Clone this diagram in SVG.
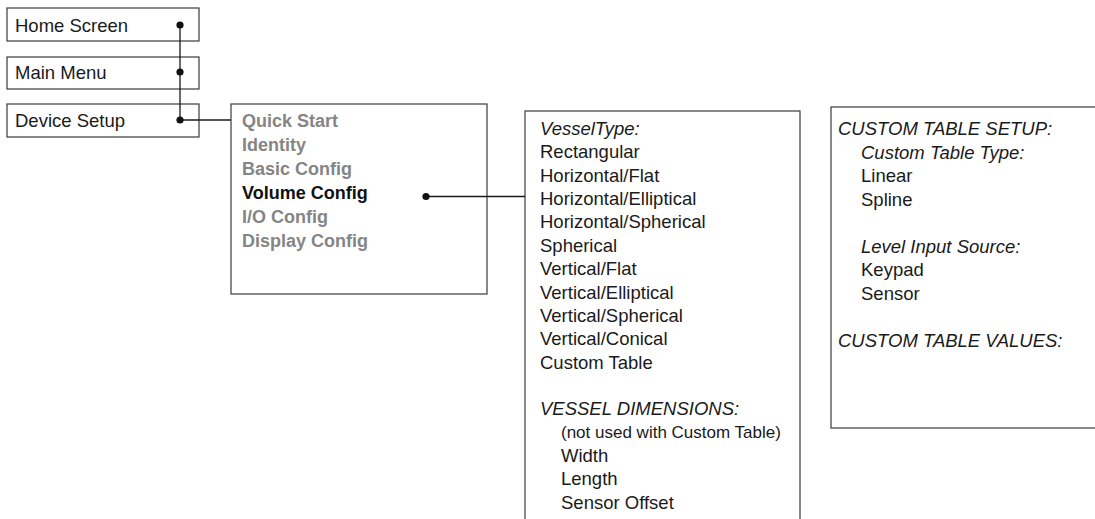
<svg xmlns="http://www.w3.org/2000/svg" width="1095" height="519" viewBox="0 0 1095 519">
<style>
.box{fill:#fff;stroke:#3a3a3a;stroke-width:1.2}
.t{font-family:"Liberation Sans",Arial,Helvetica,sans-serif;font-size:18.5px;fill:#1a1a1a}
.i{font-style:italic}
.g{font-weight:bold;fill:#858585;font-size:18px}
.b{font-weight:bold;fill:#111;font-size:18px}
.sm{font-size:17px}
.ln{stroke:#1a1a1a;stroke-width:1.3;fill:none}
.dot{fill:#111}
</style>
<rect width="1095" height="519" fill="#fff"/>
<g id="home-screen">
<rect class="box" x="7" y="8" width="192" height="33"/>
<text class="t" x="15" y="31.5">Home Screen</text>
</g>
<g id="main-menu">
<rect class="box" x="7" y="57" width="192" height="32"/>
<text class="t" x="15" y="79">Main Menu</text>
</g>
<g id="device-setup">
<rect class="box" x="7" y="104" width="192" height="33"/>
<text class="t" x="15" y="127">Device Setup</text>
</g>
<g id="setup-menu">
<rect class="box" x="231" y="104" width="256" height="190"/>
<text class="t g" x="242" y="127">Quick Start</text>
<text class="t g" x="242" y="151">Identity</text>
<text class="t g" x="242" y="175">Basic Config</text>
<text class="t b" x="242" y="199">Volume Config</text>
<text class="t g" x="242" y="223">I/O Config</text>
<text class="t g" x="242" y="247">Display Config</text>
</g>
<g id="volume-config">
<rect class="box" x="525" y="111" width="275" height="420"/>
<text class="t i" x="540" y="135">VesselType:</text>
<text class="t" x="540" y="158.4">Rectangular</text>
<text class="t" x="540" y="181.7">Horizontal/Flat</text>
<text class="t" x="540" y="205.1">Horizontal/Elliptical</text>
<text class="t" x="540" y="228.4">Horizontal/Spherical</text>
<text class="t" x="540" y="251.8">Spherical</text>
<text class="t" x="540" y="275.1">Vertical/Flat</text>
<text class="t" x="540" y="298.5">Vertical/Elliptical</text>
<text class="t" x="540" y="321.8">Vertical/Spherical</text>
<text class="t" x="540" y="345.2">Vertical/Conical</text>
<text class="t" x="540" y="368.5">Custom Table</text>
<text class="t i" x="540" y="415.2">VESSEL DIMENSIONS:</text>
<text class="t sm" x="561" y="438.2">(not used with Custom Table)</text>
<text class="t" x="561" y="461.9">Width</text>
<text class="t" x="561" y="485.2">Length</text>
<text class="t" x="561" y="508.6">Sensor Offset</text>
</g>
<g id="custom-table">
<rect class="box" x="831" y="107" width="300" height="321"/>
<text class="t i" x="838" y="135">CUSTOM TABLE SETUP:</text>
<text class="t i" x="861" y="158.5">Custom Table Type:</text>
<text class="t" x="861" y="182">Linear</text>
<text class="t" x="861" y="205.5">Spline</text>
<text class="t i" x="861" y="252.5">Level Input Source:</text>
<text class="t" x="861" y="276">Keypad</text>
<text class="t" x="861" y="299.5">Sensor</text>
<text class="t i" x="838" y="346.5">CUSTOM TABLE VALUES:</text>
</g>
<g id="connectors">
<line class="ln" x1="180" y1="25" x2="180" y2="120"/>
<line class="ln" x1="180" y1="120" x2="231" y2="120"/>
<line class="ln" x1="426" y1="196.5" x2="525" y2="196.5"/>
<circle class="dot" cx="180" cy="25" r="3.6"/>
<circle class="dot" cx="180" cy="72" r="3.6"/>
<circle class="dot" cx="180" cy="120" r="3.6"/>
<circle class="dot" cx="426" cy="196.5" r="3.6"/>
</g>
</svg>
